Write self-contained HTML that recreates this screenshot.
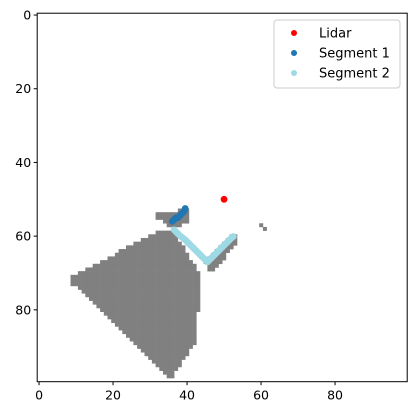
<!DOCTYPE html>
<html><head><meta charset="utf-8"><style>
body{margin:0;background:#fff;}
svg{display:block;font-family:"DejaVu Sans","Liberation Sans",sans-serif;}
</style></head><body>
<svg id="chart" width="416" height="416" viewBox="0 0 416 416">
<g id="grid"></g>
<g id="pts"></g>
<rect x="37.2" y="13.2" width="370" height="368.5" fill="none" stroke="#000" stroke-width="1"/>
<g id="ticks" font-size="12.5" fill="#000"></g>
<g>
<rect x="274" y="20" width="126" height="68" rx="3" fill="#fff" fill-opacity="0.8" stroke="#ccc"/>
<circle cx="294" cy="33" r="3" fill="#ff0000"/>
<text x="319" y="37.5" font-size="13">Lidar</text>
<circle cx="294" cy="53" r="3" fill="#1f77b4"/>
<text x="319" y="57.5" font-size="13">Segment 1</text>
<circle cx="294" cy="73" r="3" fill="#9edae5"/>
<text x="319" y="77.5" font-size="13">Segment 2</text>
</g>
</svg>
<script>
const xTicks=[0,20,40,60,80];
const yTicks=[0,20,40,60,80];
const lidarX=[50];
const lidarY=[50];
const seg1X=[36,36.5,37,37.5,38,38.5,39,39.3,39.5];
const seg1Y=[56,55.5,55,55,54.5,54,53.5,53,52.5];
const seg2X=[36.5,37,37.5,38,38.5,39,39.5,40,40.5,41,41.5,42,42.5,43,43.5,44,44.5,45,45.5,46,46.5,47,47.5,48,48.5,49,49.5,50,50.5,51,51.5,52,52.5];
const seg2Y=[58.3,58.8,59.3,59.8,60.2,60.6,61,61.5,62,62.5,63,63.5,64,64.5,65,65.5,66,66.5,67,66.5,66,65.5,65,64.5,64,63.5,63,62.5,62,61.5,61,60.5,60.1];
const polyMain=[[9,71],[32,58.6],[36,58],[43.3,69.8],[42.8,88],[35.7,98.5],[35,98.5],[9,73]];
const polyTop=[[32,54],[38,53],[40.6,52.5],[40.6,56],[37,58],[35,58],[34,56],[32,55]];
const polyArm=[[45,67],[52,60],[53.5,60],[53.5,62],[47,69.5],[46,69.5]];
const extraCells=[[60,57],[61,58]];
const L=37.2,T=13.2,W=370,H=368.5,N=100;
const cw=W/N,ch=H/N;
function sx(v){return L+(v+0.5)*cw;}
function sy(v){return T+(v+0.5)*ch;}
const ns="http://www.w3.org/2000/svg";
function inside(p,x,y){let c=false;for(let i=0,j=p.length-1;i<p.length;j=i++){const xi=p[i][0],yi=p[i][1],xj=p[j][0],yj=p[j][1];if(((yi>y)!=(yj>y))&&(x<(xj-xi)*(y-yi)/(yj-yi)+xi))c=!c;}return c;}
const grid=document.getElementById('grid');
function cell(i,j){const r=document.createElementNS(ns,'rect');
r.setAttribute('x',L+i*cw);r.setAttribute('y',T+j*ch);r.setAttribute('width',cw+0.3);r.setAttribute('height',ch+0.3);r.setAttribute('fill','#808080');


grid.appendChild(r);}
for(let j=0;j<N;j++)for(let i=0;i<N;i++){if(inside(polyMain,i,j)||inside(polyTop,i,j)||inside(polyArm,i,j))cell(i,j);}
extraCells.forEach(c=>cell(c[0],c[1]));
const pts=document.getElementById('pts');
function dots(xs,ys,col,name){xs.forEach((x,k)=>{const c=document.createElementNS(ns,'circle');c.setAttribute('cx',sx(x));c.setAttribute('cy',sy(ys[k]));c.setAttribute('r',3.4);c.setAttribute('fill',col);


pts.appendChild(c);});}
dots(seg2X,seg2Y,'#9edae5','segment-2-point');
dots(seg1X,seg1Y,'#1f77b4','segment-1-point');
dots(lidarX,lidarY,'#ff0000','lidar-point');
const tk=document.getElementById('ticks');
xTicks.forEach(v=>{const x=sx(v);const l=document.createElementNS(ns,'line');l.setAttribute('x1',x);l.setAttribute('x2',x);l.setAttribute('y1',T+H);l.setAttribute('y2',T+H+3.5);l.setAttribute('stroke','#000');


tk.appendChild(l);const t=document.createElementNS(ns,'text');t.setAttribute('x',x);t.setAttribute('y',T+H+18);t.setAttribute('text-anchor','middle');t.textContent=v;


tk.appendChild(t);});
yTicks.forEach(v=>{const y=sy(v);const l=document.createElementNS(ns,'line');l.setAttribute('x1',L-3.5);l.setAttribute('x2',L);l.setAttribute('y1',y);l.setAttribute('y2',y);l.setAttribute('stroke','#000');


tk.appendChild(l);const t=document.createElementNS(ns,'text');t.setAttribute('x',L-6);t.setAttribute('y',y+4.5);t.setAttribute('text-anchor','end');t.textContent=v;


tk.appendChild(t);});
</script>
</body></html>
